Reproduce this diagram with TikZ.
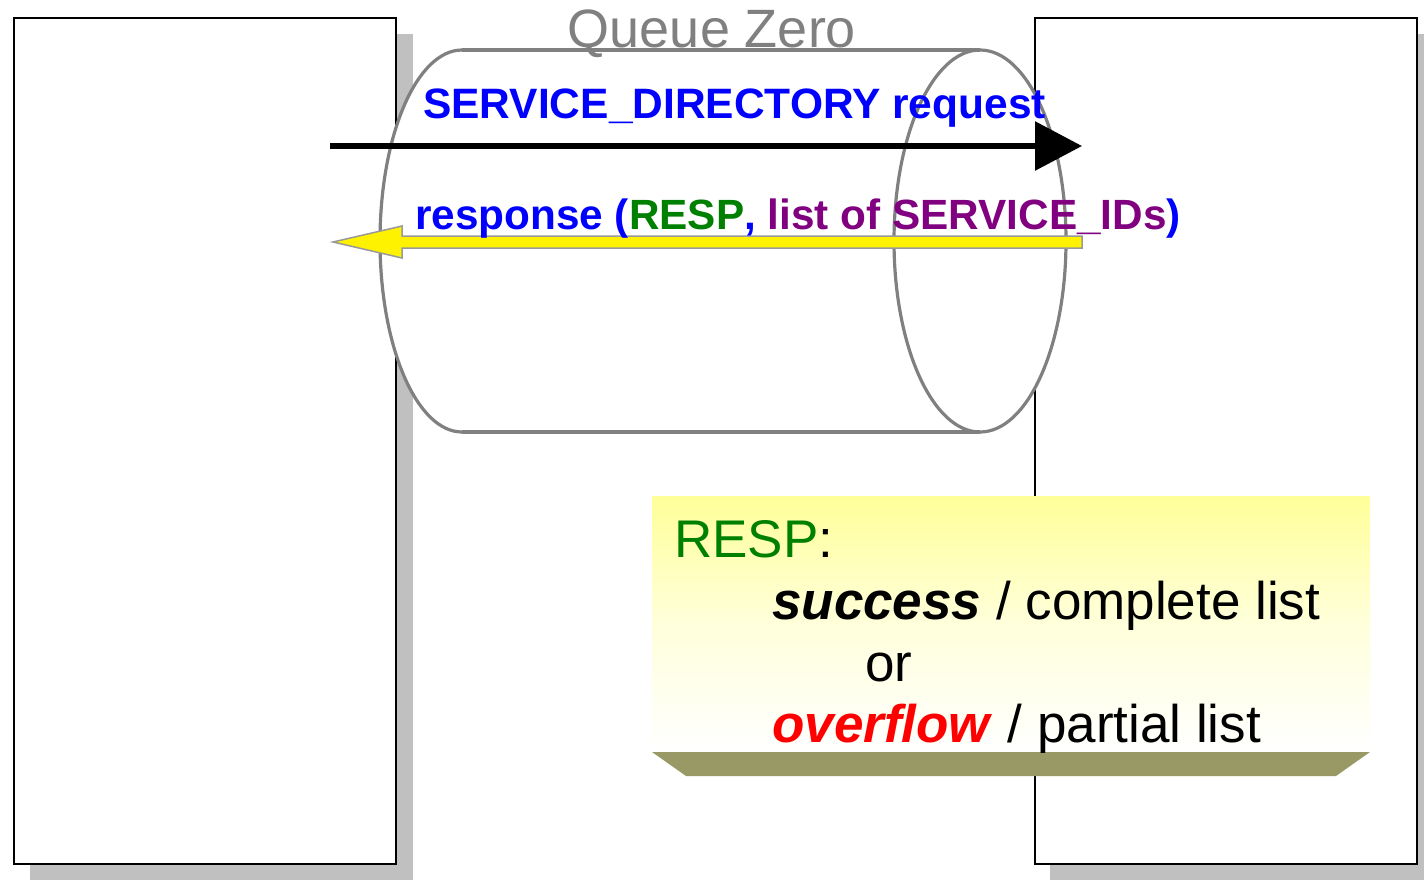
\documentclass[tikz,border=0pt]{standalone}
\usepackage{fontspec}
\setmainfont{Liberation Sans}
\usetikzlibrary{arrows.meta,calc}
\definecolor{shadowgray}{HTML}{C0C0C0}
\definecolor{cylgray}{HTML}{808080}
\definecolor{qblue}{HTML}{0000FF}
\definecolor{qgreen}{HTML}{008000}
\definecolor{qpurple}{HTML}{800080}
\definecolor{qred}{HTML}{FF0000}
\definecolor{noteyellow}{HTML}{FFFF99}
\definecolor{bevel}{HTML}{999966}
\definecolor{arrowedge}{HTML}{999999}
\tikzset{
  proc/.style={draw=black, line width=2pt, fill=white, inner sep=0pt,
    minimum width=382pt, minimum height=846pt},
  shadowbox/.style={fill=shadowgray},
  cyl/.style={draw=cylgray, line width=3.2pt},
  lbl/.style={inner sep=0pt, anchor=base west},
}
\begin{document}
\begin{tikzpicture}[x=1pt,y=-1pt]
\useasboundingbox (0,0) rectangle (1424,879);
% shadows
\fill[shadowgray] (30,34) rectangle (413,880);
\fill[shadowgray] (1050,34) rectangle (1434,880);
% process boxes
\node[proc] (L) at (205,441) {};
\node[proc] (R) at (1226,441) {};
% cylinder (queue)
\fill[white] (462,241) ellipse[x radius=82, y radius=191];
\fill[white] (462,50) rectangle (980,432);
\fill[white] (980,241) ellipse[x radius=86, y radius=191];
\begin{scope}
  \clip (0,0) rectangle (462,879);
  \draw[cyl] (462,241) ellipse[x radius=82, y radius=191];
\end{scope}
\draw[cyl] (462,50) -- (980,50);
\draw[cyl] (462,432) -- (980,432);
\draw[cyl] (980,241) ellipse[x radius=86, y radius=191];
\node[inner sep=0pt, anchor=base, text=cylgray] (qz) at (712,47)
  {\fontsize{54}{60}\selectfont Queue Zero};
% request arrow
\coordinate (reqs) at (330,146);
\coordinate (reqe) at (1082,146);
\draw[line width=6pt, -{Triangle[length=47pt,width=48pt]}] (reqs) -- (reqe);
\node[lbl, text=qblue] (reqlbl) at (423,118)
  {\fontsize{42.5}{48}\selectfont\bfseries SERVICE\_DIRECTORY request};
% response arrow (block arrow)
\coordinate (ress) at (1082,242);
\coordinate (rese) at (333,242);
\filldraw[fill=yellow, draw=arrowedge, line width=1.5pt]
  ($(ress)+(0,-6)$) -- (402,236) -- (402,226) -- (rese) -- (402,258) -- (402,248) -- ($(ress)+(0,6)$) -- cycle;
\node[lbl, text=qblue] (reslbl) at (415,229)
  {\fontsize{42.3}{48}\selectfont\bfseries response (\textcolor{qgreen}{RESP}, \textcolor{qpurple}{list of SERVICE\_IDs})};
% note box
\shade[top color=noteyellow, bottom color=white, middle color=noteyellow!35] (652,496) rectangle (1370,752);
\fill[bevel] (652,752) -- (1370,752) -- (1336,776) -- (686,776) -- cycle;
\node[lbl] (n1) at (674,557) {\fontsize{53}{60}\selectfont\textcolor{qgreen}{RESP}:};
\node[lbl] (n2) at (772,619) {\fontsize{53}{60}\selectfont\textbf{\textit{success}} / complete list};
\node[lbl] (n3) at (865,681) {\fontsize{53}{60}\selectfont or};
\node[lbl] (n4) at (772,742) {\fontsize{53}{60}\selectfont\textcolor{qred}{\textbf{\textit{overflow}}} / partial list};
\end{tikzpicture}
\end{document}
